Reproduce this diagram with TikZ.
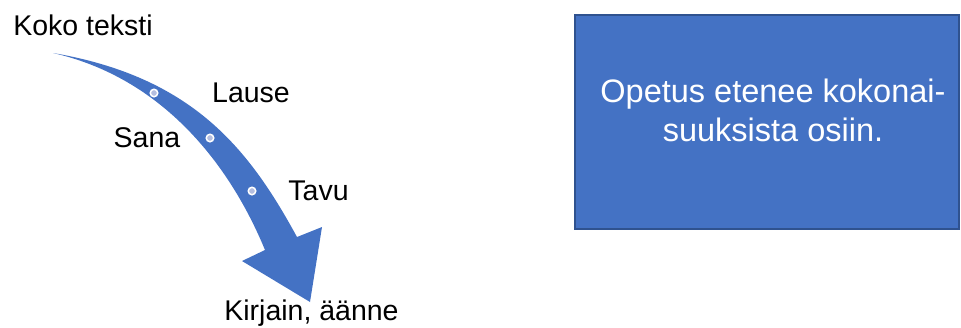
\documentclass[tikz,border=0pt]{standalone}
\usepackage{fontspec}
\setmainfont{Liberation Sans}
\definecolor{arrowblue}{HTML}{4472C4}
\definecolor{boxedge}{HTML}{2F528F}
\definecolor{dotfill}{HTML}{B4BEE0}
\begin{document}
\begin{tikzpicture}[x=1pt,y=-1pt,
  lbl/.style={inner sep=0pt,anchor=base,font=\fontsize{28.5}{33}\selectfont},
  dotmark/.style={circle,fill=dotfill,draw=white,line width=1.5pt,minimum size=7.5pt,inner sep=0pt},
  infobox/.style={fill=arrowblue,draw=boxedge,line width=2pt}]
\useasboundingbox (0,0) rectangle (961,327);
% curved tapering arrow
\fill[arrowblue] (53,53) .. controls (193,77) and (249,149) .. (297,237)
  -- (322,227) -- (310,302) -- (242,261) -- (265,250)
  .. controls (230,165) and (163,78) .. (53,53) -- cycle;
% dots on the arrow
\node[dotmark] (d1) at (154,93) {};
\node[dotmark] (d2) at (210,138) {};
\node[dotmark] (d3) at (252,191) {};
% labels
\node[lbl] (koko) at (83,35) {Koko teksti};
\node[lbl] (lause) at (251,102) {Lause};
\node[lbl] (sana) at (147,147) {Sana};
\node[lbl] (tavu) at (318.5,200) {Tavu};
\node[lbl] (kirj) at (311.5,320) {Kirjain, äänne};
% box
\draw[infobox] (575,15) rectangle (959,229);
\node[inner sep=0pt,anchor=base,text=white,font=\fontsize{32.5}{39}\selectfont] (l1) at (773,102) {Opetus etenee kokonai-};
\node[inner sep=0pt,anchor=base,text=white,font=\fontsize{32.5}{39}\selectfont] (l2) at (773,141) {suuksista osiin.};
\end{tikzpicture}
\end{document}
